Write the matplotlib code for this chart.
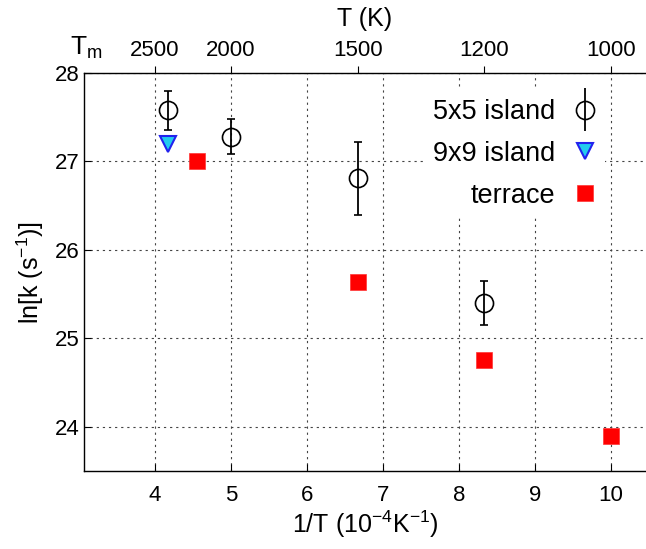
import matplotlib
matplotlib.use("Agg")
import matplotlib.pyplot as plt
from matplotlib.lines import Line2D
from matplotlib.container import ErrorbarContainer
from matplotlib.legend_handler import HandlerErrorbar
import numpy as np

plt.rcParams['font.family'] = ['Liberation Sans', 'DejaVu Sans']
plt.rcParams['mathtext.fontset'] = 'custom'
plt.rcParams['mathtext.rm'] = 'Liberation Sans'
plt.rcParams['mathtext.it'] = 'Liberation Sans'

# data: x = 1/T (1e-4 K^-1), y = ln k
island5_x = [4.17, 5.0, 6.67, 8.33]
island5_y = [27.58, 27.28, 26.81, 25.40]
island5_err = [0.22, 0.20, 0.41, 0.25]
island9_x = [4.17]
island9_y = [27.20]
terrace_x = [4.55, 6.67, 8.33, 10.0]
terrace_y = [27.01, 25.64, 24.76, 23.90]

xlim = (3.066, 10.46)
bottom_ticks = [4, 5, 6, 7, 8, 9, 10]
y_ticks = [24, 25, 26, 27, 28]
top_T = [2500, 2000, 1500, 1200, 1000]
top_labels = ['2500', '2000', '1500', '1200', '1000']

fig = plt.figure(figsize=(6.46, 5.49), dpi=100)
ax = fig.add_axes([84/646, 1-471/549, 1-84/646, (471-73)/549])

ax.grid(True, linestyle=(0, (2, 3.5)), color='#444444', linewidth=0.8)
ax.set_axisbelow(True)

eb_kw = dict(fmt='o', mfc='none', mec='black', ecolor='black', ms=13, mew=1.2,
             elinewidth=1.3, capsize=2.8, capthick=1.3)
ax.errorbar(island5_x, island5_y, yerr=island5_err, zorder=3, **eb_kw)
ax.plot(island9_x, island9_y, linestyle='none', marker='v', ms=12, mfc='#22ccee',
        mec='#2222ee', mew=1.5, zorder=3)
ax.plot(terrace_x, terrace_y, linestyle='none', marker='s', ms=11.5, mfc='#ff0000',
        mec='#ff3333', mew=0.5, zorder=3)

ax.set_xlim(*xlim)
ax.set_ylim(23.5, 28)
ax.set_xticks(bottom_ticks)
ax.set_yticks(y_ticks)
ax.tick_params(axis='both', direction='in', labelsize=16, length=5, width=0.8,
               top=True, right=False)
ax.tick_params(axis='x', pad=10)
ax.spines['right'].set_visible(False)
for s in ['left', 'bottom', 'top']:
    ax.spines[s].set_linewidth(1.0)
    ax.spines[s].set_color('#333333')

ax.set_xlabel('1/T (10$^{-4}$K$^{-1}$)', fontsize=18, labelpad=2)
ax.set_ylabel('ln[k (s$^{-1}$)]', fontsize=18, labelpad=6)

ax2 = ax.twiny()
ax2.set_xlim(*xlim)
ax2.set_xticks([1e4 / t for t in top_T])
ax2.set_xticklabels(top_labels)
ax2.tick_params(axis='x', direction='out', labelsize=16, length=5, width=0.8)
ax2.spines['right'].set_visible(False)
ax2.set_xlabel('T (K)', fontsize=18, labelpad=10)
ax2.text(xlim[0] + 0.03, 1.0 + 12/398, 'T$_\\mathregular{m}$', transform=ax2.get_xaxis_transform(),
         fontsize=19, ha='center', va='bottom')

h5 = ax.errorbar([], [], yerr=[], **eb_kw)
h9 = Line2D([], [], linestyle='none', marker='v', ms=12, mfc='#22ccee', mec='#2222ee', mew=1.5)
ht = Line2D([], [], linestyle='none', marker='s', ms=11.5, mfc='#ff0000', mec='#ff3333', mew=0.5)
leg = ax.legend([h5, h9, ht], ['5x5 island', '9x9 island', 'terrace'], loc='upper right',
                bbox_to_anchor=(0.927, 0.958), borderaxespad=0, markerfirst=False,
                fontsize=19.5, frameon=True, framealpha=1, facecolor='white',
                edgecolor='none', handlelength=0.8, handletextpad=0.7,
                labelspacing=0.58, borderpad=0.35,
                handler_map={ErrorbarContainer: HandlerErrorbar(yerr_size=0.8)})
leg.set_zorder(5)

fig.savefig('out.png', dpi=100)
